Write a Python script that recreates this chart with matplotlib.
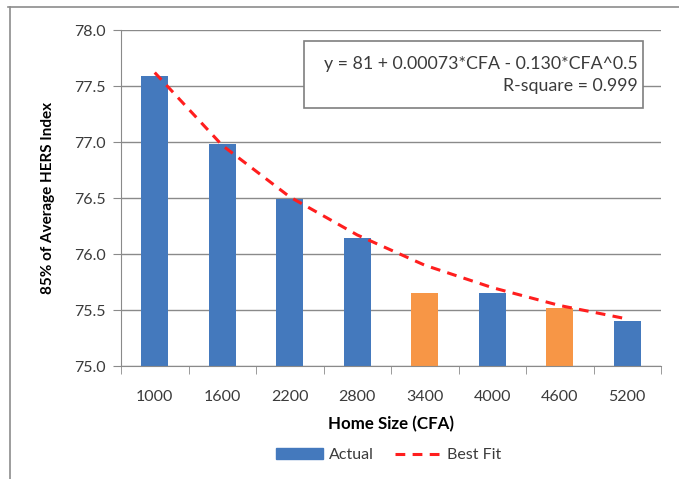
import matplotlib.pyplot as plt
from matplotlib.lines import Line2D
from matplotlib.patches import Patch

# data
home_size = ["1000", "1600", "2200", "2800", "3400", "4000", "4600", "5200"]
actual = [77.59, 76.98, 76.49, 76.14, 75.65, 75.65, 75.52, 75.40]
best_fit = [77.62, 76.97, 76.51, 76.17, 75.90, 75.70, 75.54, 75.42]
bar_colors = ["#4479BD", "#4479BD", "#4479BD", "#4479BD",
              "#F79646", "#4479BD", "#F79646", "#4479BD"]

plt.rcParams['font.family'] = ['Lato', 'DejaVu Sans']
txt = "#3b3b3b"
grid_c = "#8a8a8a"

fig = plt.figure(figsize=(6.79, 4.79), dpi=100)
ax = fig.add_axes([121/679, 1-366/479, 540/679, 336/479])

x = list(range(len(home_size)))
ax.bar(x, [a - 75 for a in actual], bottom=75, width=0.4, color=bar_colors,
       edgecolor="none", zorder=2)
ax.plot(x, best_fit, color="#FF1E1E", lw=2.2, ls=(0, (3.2, 2.4)), zorder=3)

ax.set_xlim(-0.5, 7.5)
ax.set_ylim(75.0, 78.0)
ax.set_yticks([75.0, 75.5, 76.0, 76.5, 77.0, 77.5, 78.0])
ax.set_yticklabels(["%.1f" % v for v in ax.get_yticks()])
ax.set_xticks(x)
ax.set_xticklabels(home_size)
ax.set_xticks([i - 0.5 for i in range(len(home_size) + 1)], minor=True)
ax.tick_params(axis='x', which='major', length=0, pad=17, labelsize=11.5, labelcolor=txt)
ax.tick_params(axis='x', which='minor', length=6, color=grid_c, direction='out')
ax.tick_params(axis='y', length=6, color=grid_c, pad=5, labelsize=11.5, labelcolor=txt)

ax.grid(axis='y', color=grid_c, lw=1, zorder=0)
ax.set_axisbelow(True)
for s in ['top', 'right']:
    ax.spines[s].set_visible(False)
for s in ['left', 'bottom']:
    ax.spines[s].set_color(grid_c)

ax.set_xlabel("Home Size (CFA)", fontsize=12.2, fontweight='bold', labelpad=9)
ax.set_ylabel("85% of Average HERS Index", fontsize=11, fontweight='bold', labelpad=14)

# equation box
fig.patches.append(plt.Rectangle((304/679, 1-108/479), 339/679, 67/479,
                                 transform=fig.transFigure, fill=True, fc='white',
                                 ec="#7f7f7f", lw=1.2, zorder=4))
fig.text(638/679, 1-75/479, "y = 81 + 0.00073*CFA - 0.130*CFA^0.5\nR-square = 0.999",
         ha='right', va='center', fontsize=12.8, color=txt, linespacing=1.5, zorder=5)

# outer frame
fig.add_artist(Line2D([8/679, 1], [1-7/479, 1-7/479], color="#8c8c8c", lw=1.2))
fig.add_artist(Line2D([10/679, 10/679], [0, 1-7/479], color="#8c8c8c", lw=1.2))

handles = [Patch(color="#4479BD"),
           Line2D([], [], color="#FF1E1E", lw=2.2, ls=(0, (3.2, 2.4)))]
fig.legend(handles, ["Actual", "Best Fit"], loc='center', bbox_to_anchor=(389/679, 1-455/479),
           ncol=2, frameon=False, fontsize=11.5, handlelength=2.95, columnspacing=1.3,
           handletextpad=0.35, labelcolor=txt)

fig.savefig("out.png", dpi=100)
